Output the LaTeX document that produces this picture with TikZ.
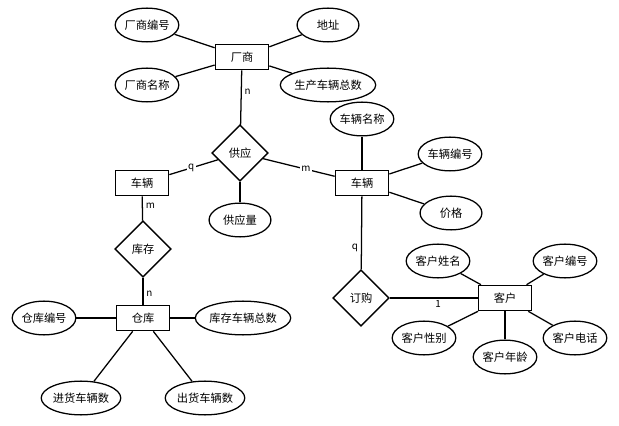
\documentclass[tikz,border=0pt]{standalone}
\usepackage{fontspec}
\setmainfont{Noto Sans CJK SC}
\usetikzlibrary{shapes.geometric}
\tikzset{
  entity/.style={draw,line width=.9pt,minimum width=38pt,minimum height=18pt,inner sep=1pt},
  attr/.style={draw,ellipse,line width=.9pt,minimum width=44pt,minimum height=24pt,inner sep=0pt},
  rel/.style={draw,diamond,aspect=1,line width=.9pt,minimum size=40pt,inner sep=0pt},
  card/.style={fill=white,inner sep=1pt,font=\fontsize{7}{8}\selectfont},
  link/.style={line width=.9pt}
}
\begin{document}
\begin{tikzpicture}[x=0.025cm,y=-0.025cm,font=\fontsize{8}{9}\selectfont]
\useasboundingbox (0,0) rectangle (619,426);
% entities
\node[entity] (maker) at (242,57) {厂商};
\node[entity] (carL) at (142,183) {车辆};
\node[entity] (carR) at (362,183) {车辆};
\node[entity] (store) at (143,318) {仓库};
\node[entity] (cust) at (505,298) {客户};
% relations
\node[rel] (supply) at (240,153) {供应};
\node[rel] (stock) at (143,249) {库存};
\node[rel] (order) at (361,298) {订购};
% attributes
\node[attr] (mno) at (147,25) {厂商编号};
\node[attr] (maddr) at (328,25) {地址};
\node[attr] (mname) at (147,85) {厂商名称};
\node[attr,minimum width=52pt] (mtotal) at (328,85) {生产车辆总数};
\node[attr] (amount) at (240,220) {供应量};
\node[attr] (cname) at (362,119) {车辆名称};
\node[attr] (cno) at (450,154) {车辆编号};
\node[attr] (price) at (451,213) {价格};
\node[attr] (sno) at (44,318) {仓库编号};
\node[attr,minimum width=52pt] (stotal) at (243,318) {库存车辆总数};
\node[attr,minimum width=50pt] (sin) at (81,398) {进货车辆数};
\node[attr,minimum width=50pt] (sout) at (205,398) {出货车辆数};
\node[attr] (kname) at (438,261) {客户姓名};
\node[attr] (kno) at (565,261) {客户编号};
\node[attr] (ksex) at (424,338) {客户性别};
\node[attr] (kage) at (505,357) {客户年龄};
\node[attr] (ktel) at (575,338) {客户电话};
% links
\foreach \a in {mno,maddr,mname,mtotal}
  \draw[link] (maker) -- (\a);
\foreach \a in {cname,cno,price}
  \draw[link] (carR) -- (\a);
\foreach \a in {sno,stotal,sin,sout}
  \draw[link] (store) -- (\a);
\foreach \a in {kname,kno,ksex,kage,ktel}
  \draw[link] (cust) -- (\a);
\draw[link] (supply) -- (amount);
\draw[link] (maker) -- node[card,pos=.4,right=1pt] {n} (supply);
\draw[link] (supply) -- node[card,pos=.55] {q} (carL);
\draw[link] (supply) -- node[card,pos=.6] {m} (carR);
\draw[link] (carL) -- node[card,pos=.4,right=1pt] {m} (stock);
\draw[link] (stock) -- node[card,pos=.6,right=1pt] {n} (store);
\draw[link] (carR) -- node[card,pos=.7,left=1pt] {q} (order);
\draw[link] (order) -- node[card,pos=.55,below=0pt] {1} (cust);
\end{tikzpicture}
\end{document}
